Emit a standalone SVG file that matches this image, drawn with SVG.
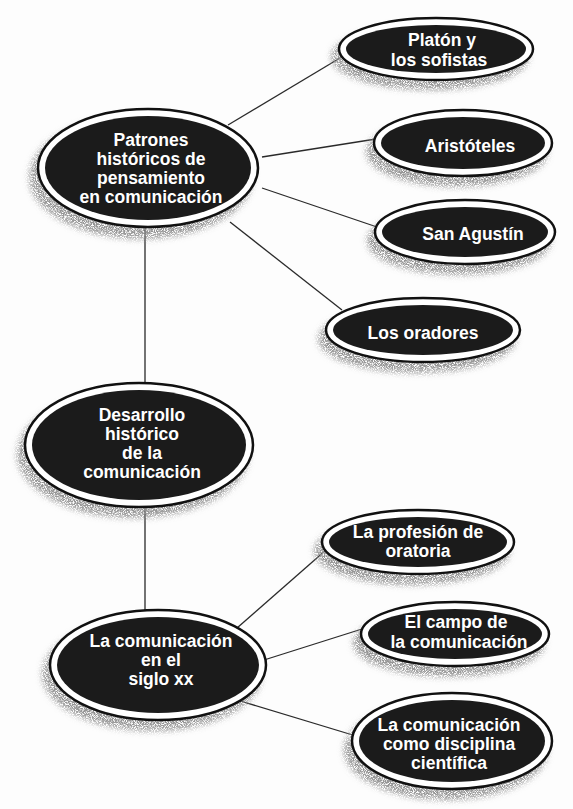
<svg xmlns="http://www.w3.org/2000/svg" width="573" height="809" viewBox="0 0 573 809">
<style>
.bg{fill:#fdfdfd}
.edge{stroke:#2a2a2a;stroke-width:1.3;fill:none}
.shadow{fill:#888;filter:url(#grain)}
.ring{fill:#fff;stroke:#111;stroke-width:2.5}
.core{fill:#1b1b1b}
.t{font-family:"Liberation Sans",Arial,Helvetica,sans-serif;font-weight:bold;font-size:17.5px;fill:#fff;text-anchor:middle}
</style>
<defs>
<filter id="grain" x="-15%" y="-20%" width="130%" height="140%">
<feGaussianBlur in="SourceAlpha" stdDeviation="3" result="b"/>
<feTurbulence type="fractalNoise" baseFrequency="1.1" numOctaves="2" seed="7" result="n"/>
<feColorMatrix in="n" type="matrix" values="0 0 0 0 0.3  0 0 0 0 0.3  0 0 0 0 0.3  4 0 0 0 -1.3" result="d"/>
<feComposite in="d" in2="b" operator="in"/>
</filter>
</defs>
<rect class="bg" x="0" y="0" width="573" height="809"/>
<g id="connectors">
<line class="edge" x1="228" y1="125" x2="340" y2="58"/>
<line class="edge" x1="262" y1="157" x2="376" y2="139"/>
<line class="edge" x1="262" y1="188" x2="377" y2="227"/>
<line class="edge" x1="230" y1="222" x2="342" y2="310"/>
<line class="edge" x1="145" y1="228" x2="145" y2="384"/>
<line class="edge" x1="145" y1="507" x2="145" y2="611"/>
<line class="edge" x1="237" y1="628" x2="326" y2="550"/>
<line class="edge" x1="264" y1="660" x2="362" y2="629"/>
<line class="edge" x1="237" y1="700" x2="356" y2="736"/>
</g>
<g id="node-patrones">
<ellipse class="shadow" cx="141" cy="177" rx="112" ry="62"/>
<ellipse class="ring" cx="148" cy="168" rx="110" ry="59"/>
<ellipse class="core" cx="148" cy="168" rx="103" ry="52"/>
<text class="t" x="151" y="146">Patrones</text>
<text class="t" x="151" y="165">históricos de</text>
<text class="t" x="151" y="184">pensamiento</text>
<text class="t" x="151" y="203">en comunicación</text>
</g>
<g id="node-platon">
<ellipse class="shadow" cx="430" cy="57" rx="99" ry="33"/>
<ellipse class="ring" cx="436" cy="49" rx="97" ry="31"/>
<ellipse class="core" cx="436" cy="49" rx="90" ry="24"/>
<text class="t" x="442" y="46">Platón y</text>
<text class="t" x="439" y="66">los sofistas</text>
</g>
<g id="node-aristoteles">
<ellipse class="shadow" cx="457" cy="152" rx="91" ry="35"/>
<ellipse class="ring" cx="463" cy="143" rx="89" ry="33"/>
<ellipse class="core" cx="463" cy="143" rx="82" ry="26"/>
<text class="t" x="470" y="152">Aristóteles</text>
</g>
<g id="node-agustin">
<ellipse class="shadow" cx="459" cy="241" rx="92" ry="34"/>
<ellipse class="ring" cx="465" cy="232" rx="90" ry="32"/>
<ellipse class="core" cx="465" cy="232" rx="83" ry="25"/>
<text class="t" x="473" y="240">San Agustín</text>
</g>
<g id="node-oradores">
<ellipse class="shadow" cx="417" cy="339" rx="99" ry="34"/>
<ellipse class="ring" cx="423" cy="330" rx="97" ry="32"/>
<ellipse class="core" cx="423" cy="330" rx="90" ry="25"/>
<text class="t" x="423" y="339">Los oradores</text>
</g>
<g id="node-desarrollo">
<ellipse class="shadow" cx="133" cy="454" rx="116" ry="64"/>
<ellipse class="ring" cx="139" cy="445" rx="114" ry="62"/>
<ellipse class="core" cx="139" cy="445" rx="107" ry="55"/>
<text class="t" x="142" y="421">Desarrollo</text>
<text class="t" x="142" y="440">histórico</text>
<text class="t" x="142" y="459">de la</text>
<text class="t" x="142" y="478">comunicación</text>
</g>
<g id="node-sigloxx">
<ellipse class="shadow" cx="152" cy="674" rx="110" ry="57"/>
<ellipse class="ring" cx="158" cy="665" rx="108" ry="55"/>
<ellipse class="core" cx="158" cy="665" rx="101" ry="48"/>
<text class="t" x="161" y="647">La comunicación</text>
<text class="t" x="161" y="666">en el</text>
<text class="t" x="161" y="685">siglo xx</text>
</g>
<g id="node-profesion">
<ellipse class="shadow" cx="412" cy="551" rx="98" ry="34"/>
<ellipse class="ring" cx="418" cy="542" rx="96" ry="32"/>
<ellipse class="core" cx="418" cy="542" rx="89" ry="25"/>
<text class="t" x="418" y="538">La profesión de</text>
<text class="t" x="418" y="557">oratoria</text>
</g>
<g id="node-campo">
<ellipse class="shadow" cx="449" cy="643" rx="96" ry="34"/>
<ellipse class="ring" cx="455" cy="634" rx="94" ry="32"/>
<ellipse class="core" cx="455" cy="634" rx="87" ry="25"/>
<text class="t" x="456" y="628">El campo de</text>
<text class="t" x="459" y="648">la comunicación</text>
</g>
<g id="node-cientifica">
<ellipse class="shadow" cx="446" cy="750" rx="102" ry="50"/>
<ellipse class="ring" cx="452" cy="741" rx="100" ry="48"/>
<ellipse class="core" cx="452" cy="741" rx="93" ry="41"/>
<text class="t" x="449" y="731">La comunicación</text>
<text class="t" x="449" y="750">como disciplina</text>
<text class="t" x="449" y="769">científica</text>
</g>
</svg>
